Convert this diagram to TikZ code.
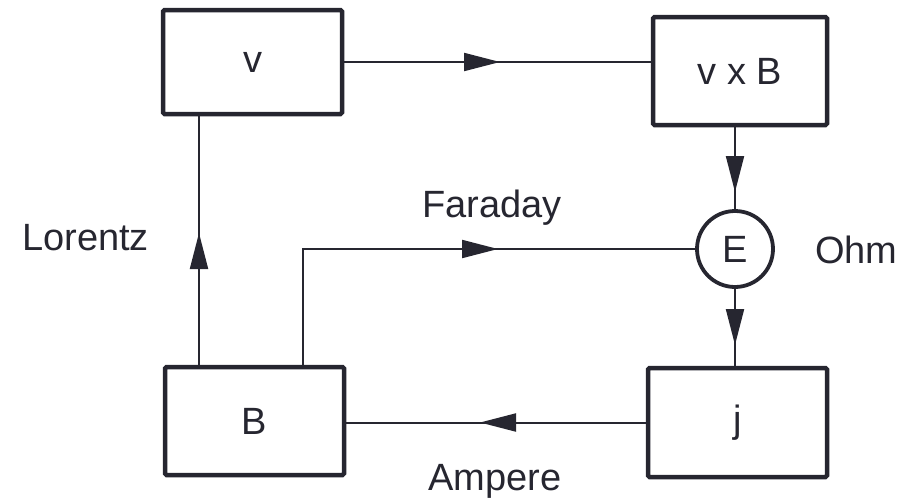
\documentclass[tikz,border=0pt]{standalone}
\usepackage{fontspec}
\setmainfont{Liberation Sans}
\usetikzlibrary{arrows.meta,decorations.markings}
\definecolor{ink}{HTML}{262630}
\tikzset{
  box/.style={draw=ink,line width=4.5pt,rounded corners=1.5pt,inner sep=0pt,outer sep=0pt,text=ink,font=\fontsize{38}{40}\selectfont},
  ring/.style={draw=ink,line width=3.8pt,circle,minimum size=76pt,inner sep=0pt,outer sep=0pt,text=ink,font=\fontsize{38}{40}\selectfont},
  lbl/.style={text=ink,font=\fontsize{38}{40}\selectfont,inner sep=0pt},
  conn/.style={draw=ink,line width=2pt},
  arrowat/.style={postaction={decorate},decoration={markings,mark=at position #1 with {\arrow{Triangle[length=36pt,width=18pt]}}}}
}
\begin{document}
\begin{tikzpicture}[x=1pt,y=-1pt]
\useasboundingbox (0,0) rectangle (915,501);
\node[box,minimum width=179pt,minimum height=104pt] (v) at (252.5,62) {v};
\node[box,minimum width=174pt,minimum height=108pt] (vxB) at (740,71) {v x B};
\node[ring] (E) at (735,249) {E};
\node[box,minimum width=179pt,minimum height=108pt] (B) at (254.5,421) {B};
\node[box,minimum width=179pt,minimum height=109pt] (j) at (737.5,422.5) {j};

\draw[conn,arrowat=158pt] (v.east) -- (vxB.west |- v.east);
\draw[conn,arrowat=67pt] (vxB.south -| E) -- (E.north);
\draw[conn,arrowat=58pt] (E.south) -- (j.north -| E);
\draw[conn,arrowat=168pt] (j.west) -- (B.east |- j.west);
\draw[conn,arrowat=134pt] ([xshift=34pt]B.north west) -- ([xshift=34pt]B.north west |- v.south);
\draw[conn,arrowat=313pt] ([xshift=138pt]B.north west) |- (E.west);

\node[lbl,anchor=base west] (faraday) at (422,217) {Faraday};
\node[lbl,anchor=base west] (lorentz) at (22,250) {Lorentz};
\node[lbl,anchor=base west] (ohm) at (815,263) {Ohm};
\node[lbl,anchor=base west] (ampere) at (428,490) {Ampere};
\end{tikzpicture}
\end{document}
